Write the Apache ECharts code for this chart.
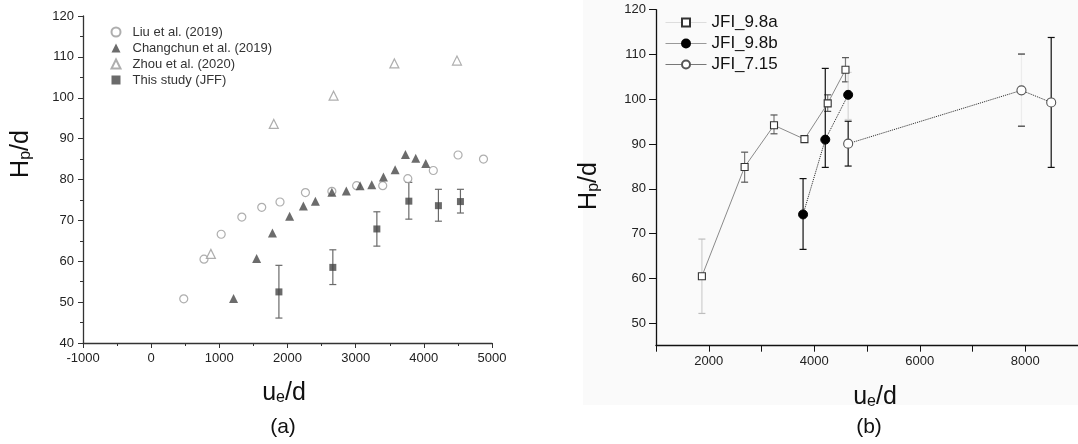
<!DOCTYPE html>
<html>
<head>
<meta charset="utf-8">
<script src="https://cdn.jsdelivr.net/npm/echarts@6/dist/echarts.min.js"></script>
<style>
  html, body { margin: 0; padding: 0; background: #fff; }
  #chart { width: 1078px; height: 444px; }
</style>
</head>
<body>
<div id="chart"></div>
<script>
// ---- Panel (a): literature comparison, [u_e/d, H_p/d] ----
const liu2019 = [[478,50.8],[775,60.5],[1027,66.6],[1330,70.8],[1622,73.2],[1890,74.5],[2263,76.8],
  [2651,77.1],[3014,78.5],[3397,78.5],[3765,80.2],[4139,82.2],[4502,86.0],[4875,85.0]];
const changchun2019 = [[1209,50.9],[1547,60.7],[1779,66.9],[2031,71.0],[2233,73.5],[2409,74.7],
  [2651,76.9],[2863,77.2],[3065,78.5],[3236,78.7],[3407,80.6],[3579,82.4],[3730,86.1],[3881,85.2],[4028,83.9]];
const zhou2020 = [[876,61.8],[1799,93.6],[2676,100.5],[3568,108.4],[4486,109.1]];
// this study: [u_e/d, H_p/d, lower, upper]
const thisStudy = [[1874,52.5,46.1,59.0],[2665,58.5,54.3,62.8],[3311,67.9,63.7,72.1],
  [3780,74.7,70.3,79.3],[4214,73.6,69.8,77.6],[4537,74.6,71.8,77.6]];

// ---- Panel (b): jet cases, [u_e/d, H_p/d, lower, upper] ----
const jfi98a = [[1870,60.5,52.2,68.8],[2680,84.9,81.5,88.2],[3237,94.2,92.3,96.5],
  [3814,91.1,90.6,91.6],[4255,99.1,97.3,101.0],[4592,106.6,103.9,109.3]];
const jfi98b = [[3788,74.3,66.5,82.3],[4209,91.0,84.8,106.9],[4643,101.0,95.5,106.0]];
const jfi715 = [[4643,90.1,85.1,95.1],[7928,102.0,94.0,110.1],[8492,99.3,84.8,113.8]];

// axis ticks
const yTicksA = [40, 120, 10];
const xTicksA = [-1000, 5000, 1000];
const yLabelsB = [50, 60, 70, 80, 90, 100, 110, 120];
const yMinorB = [45, 55, 65, 75, 85, 95, 105, 115];
const xLabelsB = [2000, 4000, 6000, 8000];

const FONT = '"Liberation Sans", Arial, Helvetica, sans-serif';

const pts = arr => arr.map(r => [r[0], r[1]]);
const bars = arr => arr.map(r => [r[0], r[2], r[3]]);
const plain = v => String(v);

// vertical error bar with caps; look(i) -> {stem, cap}
function errorBar(look, capHalf) {
  return function (params, api) {
    const x = api.value(0), lo = api.value(1), hi = api.value(2);
    const t = api.coord([x, hi]), b = api.coord([x, lo]);
    const c = look(params.dataIndex);
    const seg = (x1, y1, x2, y2, col) => ({
      type: 'line', shape: { x1, y1, x2, y2 },
      style: { stroke: col, lineWidth: 1.2 }
    });
    return {
      type: 'group',
      children: [
        seg(t[0], t[1], b[0], b[1], c.stem),
        seg(t[0] - capHalf, t[1], t[0] + capHalf, t[1], c.cap),
        seg(b[0] - capHalf, b[1], b[0] + capHalf, b[1], c.cap)
      ]
    };
  };
}

const axisLineA = { show: true, onZero: false, lineStyle: { color: '#333', width: 1.3 } };
const labelA = { fontSize: 13, color: '#222', fontFamily: FONT, formatter: plain };

const chart = echarts.init(document.getElementById('chart'), null, { renderer: 'canvas' });

const titleRich = {
  b: { fontSize: 25, fontFamily: FONT, fill: '#111', color: '#111', verticalAlign: 'bottom', lineHeight: 30 },
  s: { fontSize: 16, fontFamily: FONT, fill: '#111', color: '#111', verticalAlign: 'bottom', lineHeight: 14 }
};
function textEl(x, y, text, rotate, size) {
  return {
    type: 'text', x, y, rotation: rotate ? Math.PI / 2 : 0, z: 10,
    style: {
      text, rich: titleRich, align: 'center', verticalAlign: 'middle',
      fontSize: size || 25, fontFamily: FONT, fill: '#111'
    }
  };
}

chart.setOption({
  animation: false,
  backgroundColor: '#fff',
  grid: [
    { left: 83, top: 16, width: 409, height: 327 },
    { left: 656, top: 9.7, width: 425.5, height: 336 }
  ],
  xAxis: [
    {
      gridIndex: 0, type: 'value', min: xTicksA[0], max: xTicksA[1], interval: xTicksA[2],
      axisLine: axisLineA, axisTick: { length: 5, lineStyle: { color: '#333' } },
      minorTick: { show: true, splitNumber: 2, length: 3, lineStyle: { color: '#333' } },
      splitLine: { show: false }, axisLabel: Object.assign({ margin: 9 }, labelA)
    },
    {
      gridIndex: 1, type: 'value', min: 1000, max: 9000, interval: 1000,
      axisLine: { onZero: false, lineStyle: { color: '#111', width: 1.3 } },
      axisTick: { length: 6, lineStyle: { color: '#111' } },
      splitLine: { show: false },
      axisLabel: Object.assign({ margin: 9, customValues: xLabelsB }, labelA)
    }
  ],
  yAxis: [
    {
      gridIndex: 0, type: 'value', min: yTicksA[0], max: yTicksA[1], interval: yTicksA[2],
      axisLine: axisLineA,
      axisTick: { show: true, length: 5, lineStyle: { color: '#333' } },
      minorTick: { show: true, splitNumber: 2, length: 3, lineStyle: { color: '#333' } },
      splitLine: { show: false }, axisLabel: Object.assign({ margin: 9 }, labelA)
    },
    {
      gridIndex: 1, type: 'value', min: 45, max: 120,
      axisLine: { show: true, onZero: false, lineStyle: { color: '#111', width: 1.3 } },
      axisTick: { show: true, length: 7, customValues: yLabelsB, lineStyle: { color: '#111' } },
      splitLine: { show: false },
      axisLabel: Object.assign({ margin: 10, customValues: yLabelsB }, labelA)
    },
    {
      gridIndex: 1, type: 'value', min: 45, max: 120,
      axisLine: { show: false, onZero: false },
      axisTick: { show: true, length: 4, customValues: yMinorB, lineStyle: { color: '#111' } },
      axisLabel: { show: false }, splitLine: { show: false }
    }
  ],
  legend: [
    {
      orient: 'vertical', left: 110.5, top: 25.5, padding: 0,
      itemWidth: 9, itemHeight: 9, itemGap: 3,
      textStyle: { fontSize: 13, color: '#333', fontFamily: FONT, lineHeight: 13, padding: [0, 0, 0, 7] },
      data: ['Liu et al. (2019)', 'Changchun et al. (2019)', 'Zhou et al. (2020)', 'This study (JFF)']
    },
    {
      orient: 'vertical', left: 665, top: 14, padding: 0,
      itemWidth: 41, itemHeight: 10, itemGap: 4,
      textStyle: { fontSize: 17, color: '#111', fontFamily: FONT, lineHeight: 17 },
      data: [
        { name: 'JFI_9.8a', lineStyle: { type: 'solid', color: '#ddd', width: 1 } },
        { name: 'JFI_9.8b', lineStyle: { type: 'solid', color: '#999', width: 1 } },
        { name: 'JFI_7.15', lineStyle: { type: 'solid', color: '#777', width: 1 } }
      ]
    }
  ],
  graphic: [
    { type: 'rect', z: -10, shape: { x: 583, y: 0, width: 495, height: 405 },
      style: { fill: '#fafafa' }, silent: true },
    textEl(19, 154, '{b|H}{s|p}{b|/d}', true),
    textEl(284, 391, '{b|u}{s|e}{b|/d}', false),
    textEl(283, 427, '(a)', false, 21),
    textEl(587, 186, '{b|H}{s|p}{b|/d}', true),
    textEl(875, 395, '{b|u}{s|e}{b|/d}', false),
    textEl(869, 427, '(b)', false, 21)
  ],
  series: [
    {
      name: 'Liu et al. (2019)', type: 'scatter', xAxisIndex: 0, yAxisIndex: 0, z: 3,
      symbol: 'circle', symbolSize: 8, data: liu2019,
      itemStyle: { color: '#fff', borderColor: '#9a9a9a', borderWidth: 1.2 }
    },
    {
      name: 'Changchun et al. (2019)', type: 'scatter', xAxisIndex: 0, yAxisIndex: 0, z: 4,
      symbol: 'triangle', symbolSize: 9, data: changchun2019,
      itemStyle: { color: '#474747' }
    },
    {
      name: 'Zhou et al. (2020)', type: 'scatter', xAxisIndex: 0, yAxisIndex: 0, z: 3,
      symbol: 'triangle', symbolSize: 9, data: zhou2020,
      itemStyle: { color: '#fff', borderColor: '#9a9a9a', borderWidth: 1.2 }
    },
    {
      type: 'custom', xAxisIndex: 0, yAxisIndex: 0, z: 2, silent: true,
      encode: { x: 0, y: [1, 2] }, data: bars(thisStudy),
      renderItem: errorBar(() => ({ stem: '#6a6a6a', cap: '#6a6a6a' }), 3.5)
    },
    {
      name: 'This study (JFF)', type: 'scatter', xAxisIndex: 0, yAxisIndex: 0, z: 4,
      symbol: 'rect', symbolSize: 7, data: pts(thisStudy),
      itemStyle: { color: '#454545' }
    },

    // panel (b) error bars
    {
      type: 'custom', xAxisIndex: 1, yAxisIndex: 1, z: 2, silent: true,
      encode: { x: 0, y: [1, 2] }, data: bars(jfi98a),
      renderItem: errorBar(i => i === 0 ? { stem: '#cfcfcf', cap: '#bdbdbd' } : { stem: '#7a7a7a', cap: '#555' }, 3.5)
    },
    {
      type: 'custom', xAxisIndex: 1, yAxisIndex: 1, z: 2, silent: true,
      encode: { x: 0, y: [1, 2] }, data: bars(jfi98b),
      renderItem: errorBar(i => i === 2 ? { stem: '#d6d6d6', cap: '#d6d6d6' } : { stem: '#111', cap: '#111' }, 3.5)
    },
    {
      type: 'custom', xAxisIndex: 1, yAxisIndex: 1, z: 2, silent: true,
      encode: { x: 0, y: [1, 2] }, data: bars(jfi715),
      renderItem: errorBar(i => i === 1 ? { stem: '#ececec', cap: '#333' } : { stem: '#111', cap: '#111' }, 3.5)
    },
    {
      name: 'JFI_9.8a', type: 'line', xAxisIndex: 1, yAxisIndex: 1, z: 4,
      symbol: 'rect', symbolSize: 7, data: pts(jfi98a),
      lineStyle: { color: '#8a8a8a', width: 1 },
      itemStyle: { color: '#fff', borderColor: '#333', borderWidth: 1.1 }
    },
    {
      name: 'JFI_9.8b', type: 'line', xAxisIndex: 1, yAxisIndex: 1, z: 4,
      symbol: 'circle', symbolSize: 9, data: pts(jfi98b),
      lineStyle: { color: '#222', width: 1, type: 'dotted' },
      itemStyle: { color: '#000', borderColor: '#000', borderWidth: 1 }
    },
    {
      name: 'JFI_7.15', type: 'line', xAxisIndex: 1, yAxisIndex: 1, z: 4,
      symbol: 'circle', symbolSize: 9, data: pts(jfi715),
      lineStyle: { color: '#222', width: 1, type: 'dotted' },
      itemStyle: { color: '#fff', borderColor: '#555', borderWidth: 1.1 }
    }
  ]
});
</script>
</body>
</html>
